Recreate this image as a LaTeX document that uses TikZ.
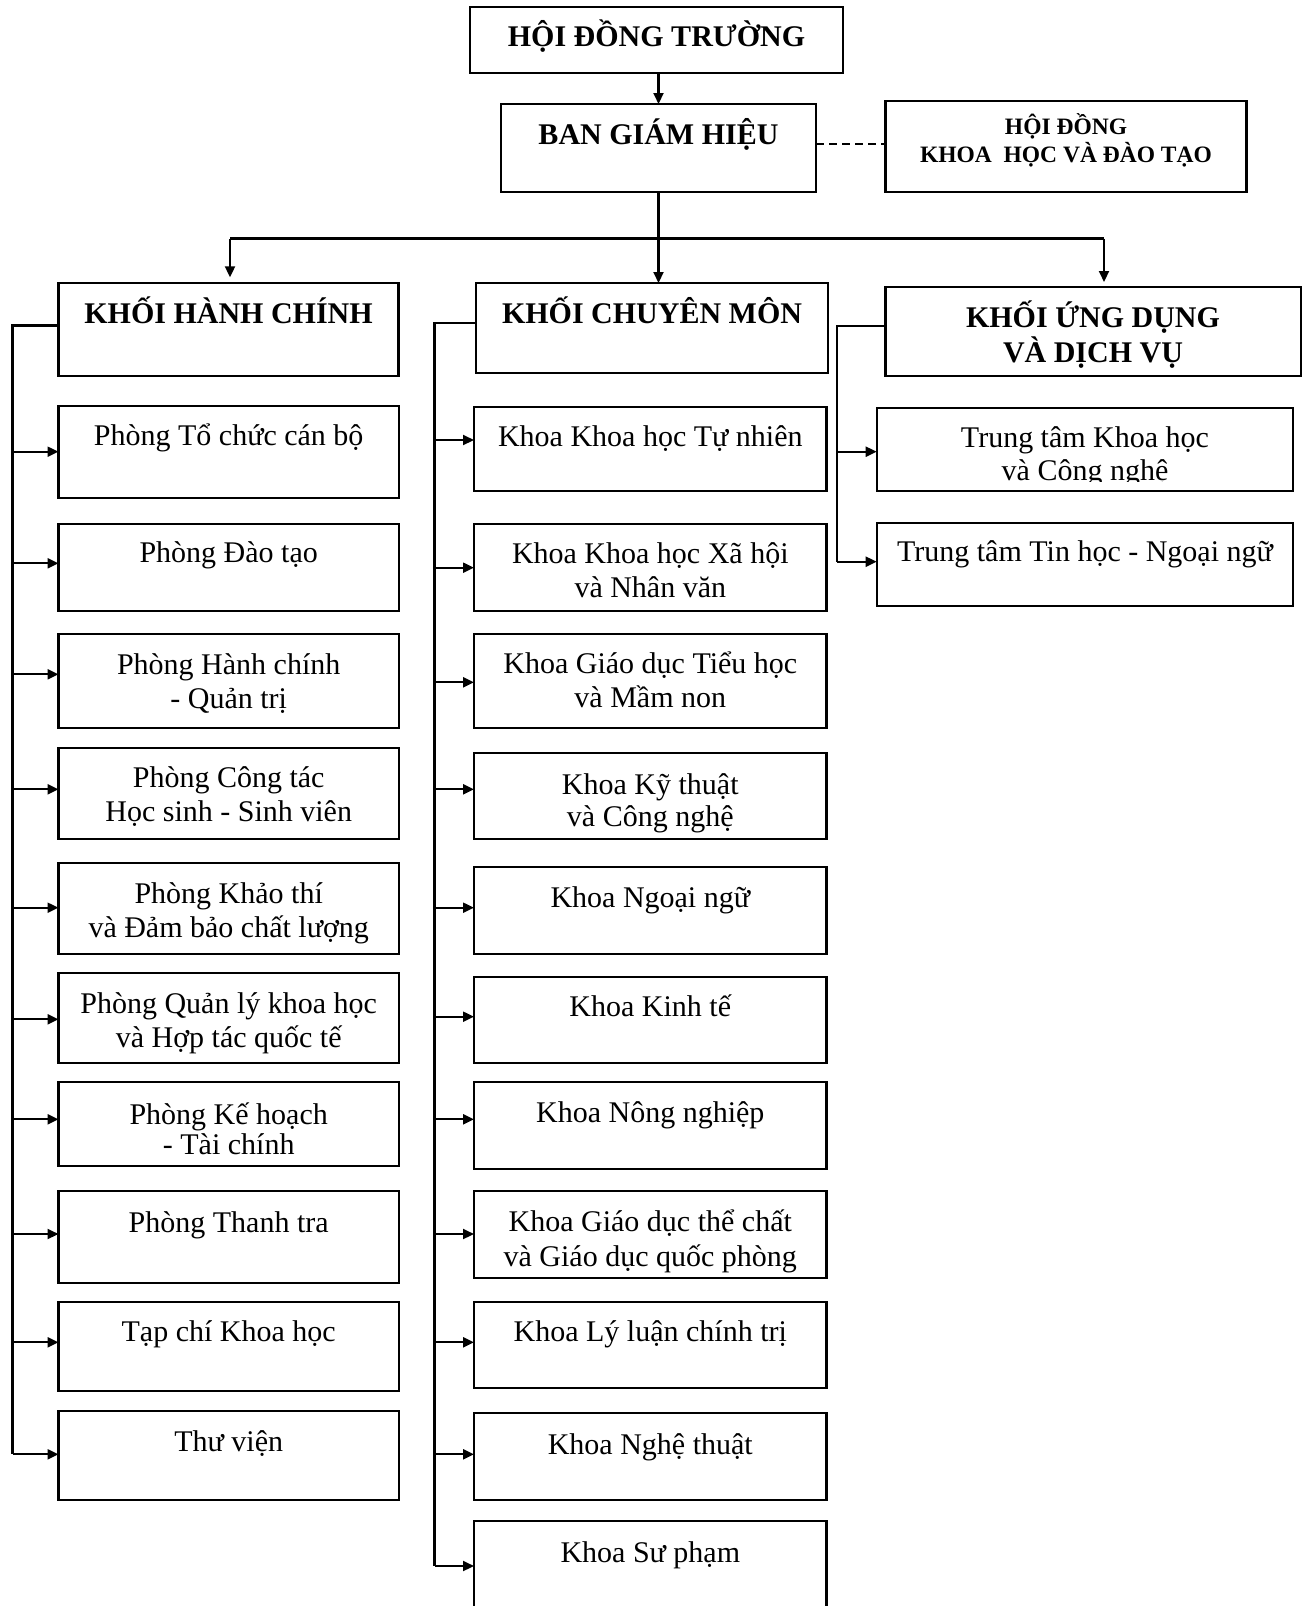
\documentclass[tikz,border=0pt]{standalone}
\usepackage{fontspec}
\setmainfont{Liberation Serif}
\usetikzlibrary{arrows.meta}
\newcommand{\bx}[5]{\node[box, minimum width={(#4-#2)*1pt}, minimum height={(#5-#3)*1pt}] (#1) at ({(#2+#4)/2},{(#3+#5)/2}) {};}
\begin{document}
\begin{tikzpicture}[x=1pt,y=-1pt,
  box/.style={draw, line width=2.3pt, inner sep=0pt, outer sep=0pt},
  conn/.style={line width=2.1pt},
  arr/.style={line width=2.1pt, -{Triangle[length=11pt,width=10pt]}},
  txt/.style={anchor=base, inner sep=0pt, font=\fontsize{30}{34}\selectfont},
  hdr/.style={anchor=base, inner sep=0pt, font=\fontsize{30}{36}\selectfont\bfseries},
  hdrs/.style={anchor=base, inner sep=0pt, font=\fontsize{23.5}{28}\selectfont\bfseries},
  dashline/.style={line width=2pt, dash pattern=on 8pt off 5pt}
]
\useasboundingbox (0,0) rectangle (1310,1606);

% top level boxes
\bx{top}{470}{6.7}{843}{72.7}
\bx{bgh}{501}{104}{816}{192}
\bx{hdkh}{885.5}{100.7}{1246.5}{191.7}
\bx{khc}{58.5}{283.3}{398.5}{375.7}
\bx{kcm}{476}{283}{828}{373}
\bx{kud}{885.5}{287}{1300.7}{375.7}

\node[hdr] at (656.5,46) {HỘI ĐỒNG TRƯỜNG};
\node[hdr] at (658.5,144) {BAN GIÁM HIỆU};
\node[hdrs] at (1066,134.3) {HỘI ĐỒNG};
\node[hdrs] at (1066,162.7) {KHOA\ \ HỌC VÀ ĐÀO TẠO};
\node[hdr] at (228.5,323) {KHỐI HÀNH CHÍNH};
\node[hdr] at (652,323) {KHỐI CHUYÊN MÔN};
\node[hdr] at (1093,327) {KHỐI ỨNG DỤNG};
\node[hdr] at (1093,362) {VÀ DỊCH VỤ};

% left column
\bx{l1}{58.5}{406}{399}{498.3}
\bx{l2}{58.5}{524}{399}{611}
\bx{l3}{58.5}{634.3}{399}{727.7}
\bx{l4}{58.5}{748.3}{399}{839.3}
\bx{l5}{58.5}{863.3}{399}{954}
\bx{l6}{58.5}{973.3}{399}{1063.3}
\bx{l7}{58.5}{1082.3}{399}{1166}
\bx{l8}{58.5}{1190.7}{399}{1282.7}
\bx{l9}{58.5}{1301.7}{399}{1390.7}
\bx{l10}{58.5}{1411}{399}{1500}

\node[txt] at (228.7,445.5) {Phòng Tổ chức cán bộ};
\node[txt] at (228.7,562.5) {Phòng Đào tạo};
\node[txt] at (228.7,674) {Phòng Hành chính};
\node[txt] at (228.7,708.5) {- Quản trị};
\node[txt] at (228.7,787.5) {Phòng Công tác};
\node[txt] at (228.7,821.5) {Học sinh - Sinh viên};
\node[txt] at (228.7,903) {Phòng Khảo thí};
\node[txt] at (228.7,937.5) {và Đảm bảo chất lượng};
\node[txt] at (228.7,1013.5) {Phòng Quản lý khoa học};
\node[txt] at (228.7,1047.5) {và Hợp tác quốc tế};
\node[txt] at (228.7,1124) {Phòng Kế hoạch};
\node[txt] at (228.7,1154) {- Tài chính};
\node[txt] at (228.7,1232) {Phòng Thanh tra};
\node[txt] at (228.7,1341) {Tạp chí Khoa học};
\node[txt] at (228.7,1451) {Thư viện};

% middle column
\bx{m1}{474}{406.7}{826.6}{490.7}
\bx{m2}{474}{524}{826.6}{611}
\bx{m3}{474}{634.3}{826.6}{727.7}
\bx{m4}{474}{752.7}{826.6}{839.3}
\bx{m5}{474}{866.7}{826.6}{954}
\bx{m6}{474}{976.7}{826.6}{1063.3}
\bx{m7}{474}{1082.3}{826.6}{1169.3}
\bx{m8}{474}{1190.7}{826.6}{1277.7}
\bx{m9}{474}{1301.7}{826.6}{1388.3}
\bx{m10}{474}{1413.3}{826.6}{1500}
\bx{m11}{474}{1521}{826.6}{1620}

\node[txt] at (650.3,446.5) {Khoa Khoa học Tự nhiên};
\node[txt] at (650.3,563) {Khoa Khoa học Xã hội};
\node[txt] at (650.3,597) {và Nhân văn};
\node[txt] at (650.3,673) {Khoa Giáo dục Tiểu học};
\node[txt] at (650.3,707.5) {và Mầm non};
\node[txt] at (650.3,794) {Khoa Kỹ thuật};
\node[txt] at (650.3,826) {và Công nghệ};
\node[txt] at (650.3,907.5) {Khoa Ngoại ngữ};
\node[txt] at (650.3,1016.5) {Khoa Kinh tế};
\node[txt] at (650.3,1122.5) {Khoa Nông nghiệp};
\node[txt] at (650.3,1231.5) {Khoa Giáo dục thể chất};
\node[txt] at (650.3,1266) {và Giáo dục quốc phòng};
\node[txt] at (650.3,1341) {Khoa Lý luận chính trị};
\node[txt] at (650.3,1454.5) {Khoa Nghệ thuật};
\node[txt] at (650.3,1562) {Khoa Sư phạm};

% right column
\bx{r1}{876.7}{408.3}{1293.3}{491}
\bx{r2}{876.7}{522.7}{1293.3}{606}
\node[txt] at (1085,447.5) {Trung tâm Khoa học};
\begin{scope}
  \clip (876.7,408.3) rectangle (1293.3,481);
  \node[txt] at (1085,480) {và Công nghệ};
\end{scope}
\node[txt] at (1085,561.5) {Trung tâm Tin học - Ngoại ngữ};

% top connectors
\draw[arr] (bgh.north |- top.south) -- (bgh.north);
\draw[dashline] (bgh.east |- 0,144) -- (hdkh.west |- 0,144);
\coordinate (busL) at (230,238.5);
\coordinate (busR) at (1104,238.5);
\draw[conn] (busL) -- (busR);
\draw[arr] (bgh.south) -- (bgh.south |- kcm.north);
\draw[arr, shorten >=6pt] (busL) -- (busL |- khc.north);
\draw[arr, shorten >=5pt] (busR) -- (busR |- kud.north);

% left spine
\coordinate (ls) at (12.5,0);
\draw[conn] ([yshift=4pt]khc.west) -| (ls |- 0,1454.3);
\foreach \n/\yy in {l1/451.7,l2/563.3,l3/674.3,l4/789.3,l5/907.7,l6/1019.3,l7/1119.3,l8/1234,l9/1342.3,l10/1454.3}
  \draw[arr] (ls |- 0,\yy) -- (\n.west |- 0,\yy);

% middle spine
\coordinate (ms) at (434.5,0);
\draw[conn] ([yshift=5pt]kcm.west) -| (ms |- 0,1566);
\foreach \n/\yy in {m1/440,m2/567.7,m3/682.3,m4/789.3,m5/907.7,m6/1016.7,m7/1119.3,m8/1234,m9/1342.3,m10/1454.3,m11/1566}
  \draw[arr] (ms |- 0,\yy) -- (\n.west |- 0,\yy);

% right spine
\coordinate (rs) at (837,0);
\draw[conn] ([yshift=5pt]kud.west) -| (rs |- 0,561.7);
\foreach \n/\yy in {r1/451.7,r2/561.7}
  \draw[arr] (rs |- 0,\yy) -- (\n.west |- 0,\yy);
\end{tikzpicture}
\end{document}
